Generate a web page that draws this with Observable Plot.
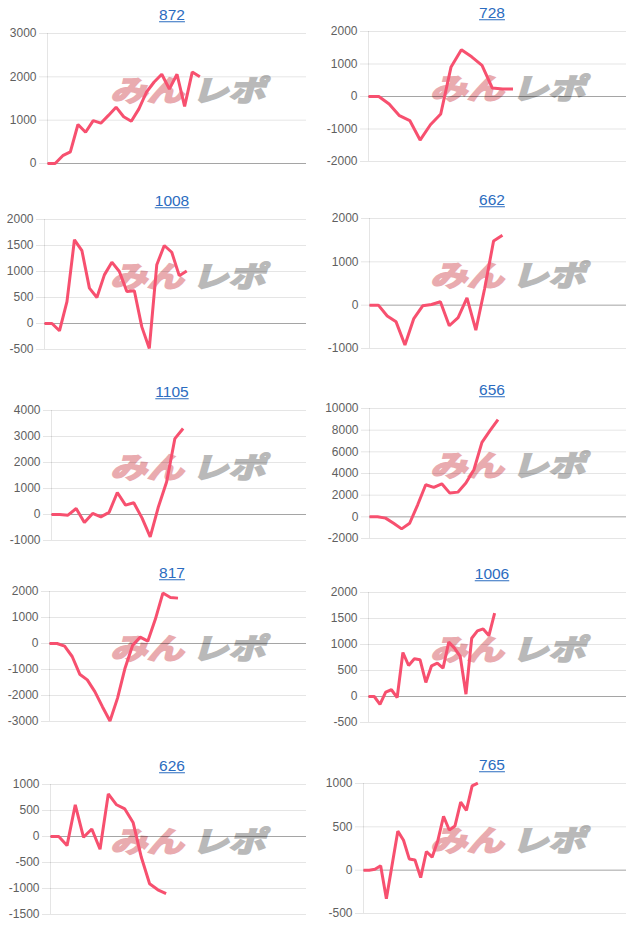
<!DOCTYPE html>
<html><head><meta charset="utf-8">
<script src="https://cdn.jsdelivr.net/npm/d3@7"></script>
<script src="https://cdn.jsdelivr.net/npm/@observablehq/plot@0.6"></script>
<style>
body{margin:0;background:#fff;}
#root{position:relative;width:640px;height:931px;overflow:hidden;font-family:"Liberation Sans",Arial,sans-serif;}
.title{position:absolute;transform:translate(-50%,-50%);color:#2b6cc0;text-decoration:underline;font-size:15.5px;white-space:nowrap;line-height:1;}
.wm{position:absolute;font-family:"Noto Sans CJK JP",sans-serif;font-weight:700;font-size:36px;line-height:1;white-space:nowrap;transform:skewX(-16deg) scale(1.02,0.8);transform-origin:left top;}
.wm .a{color:#e9abaf;-webkit-text-stroke:2.5px #e9abaf;}
.wm .b{color:#b9b9b9;-webkit-text-stroke:2.5px #b9b9b9;margin-left:8px;}
.panel{position:absolute;}
</style></head><body><div id="root"></div>
<script>
// panel titles
const titles = ["872","728","1008","662","1105","656","817","1006","626","765"];
// series values (one per panel)
const v872  = [0,0,180,270,900,720,990,930,1110,1300,1080,975,1260,1650,1880,2060,1720,2060,1320,2110,2000];
const v728  = [0,0,-230,-590,-740,-1340,-870,-540,910,1440,1220,960,260,230,230];
const v1008 = [0,0,-140,420,1610,1400,680,500,935,1180,1000,615,630,-65,-480,1130,1500,1370,920,1010];
const v662  = [0,0,-250,-385,-920,-310,-15,15,80,-475,-290,170,-575,390,1480,1615];
const v1105 = [0,0,-25,230,-310,40,-90,80,845,360,450,-130,-860,300,1260,2920,3310];
const v656  = [0,0,-120,-590,-1110,-590,1110,2960,2720,3050,2190,2280,3120,4350,6880,7960,8980];
const v817  = [0,0,-100,-500,-1180,-1400,-1850,-2430,-2980,-2100,-940,-65,245,90,930,1940,1770,1745];
const v1006 = [0,0,-150,85,130,-20,846,596,724,705,270,590,641,545,1045,930,770,45,1120,1263,1300,1173,1603];
const v626  = [0,0,-175,610,-15,145,-245,820,610,530,270,-400,-910,-1025,-1100];
const v765  = [0,0,10,50,-330,60,450,345,130,118,-86,216,150,340,620,463,510,784,690,972,1004];
const series = [v872,v728,v1008,v662,v1105,v656,v817,v1006,v626,v765];
// number of x-axis category intervals per panel
const xSpans = [34,25,35,29,31,32,34,45,31,46];
// y tick labels per panel
const yTicks = [
  [0,1000,2000,3000],
  [-2000,-1000,0,1000,2000],
  [-500,0,500,1000,1500,2000],
  [-1000,0,1000,2000],
  [-1000,0,1000,2000,3000,4000],
  [-2000,0,2000,4000,6000,8000,10000],
  [-3000,-2000,-1000,0,1000,2000],
  [-500,0,500,1000,1500,2000],
  [-1500,-1000,-500,0,500,1000],
  [-500,0,500,1000]
];
// layout (page geometry)
const plotTops  = [33,31,219,218,410,408,591,592,784,783];
const plotLefts = [47,48,44,49,51,49,49,48,50,43];

const root = document.getElementById("root");
const lineColor = "#f7506f";

for (let i = 0; i < titles.length; i++) {
  const col = i % 2, colX = col * 320;
  const mt = 12, mb = 12, h = 130;
  const ml = plotLefts[i], mr = 14;
  const ticks = yTicks[i];
  const data = series[i].map((v, j) => ({x: j, y: v}));

  // watermark (behind chart)
  const wm = document.createElement("div");
  wm.className = "wm";
  wm.style.left = (colX + 118) + "px";
  wm.style.top = (plotTops[i] + 41) + "px";
  wm.innerHTML = '<span class="a">みん</span><span class="b">レポ</span>';
  root.appendChild(wm);

  const svg = Plot.plot({
    width: 320,
    height: h + mt + mb,
    marginTop: mt, marginBottom: mb, marginLeft: ml, marginRight: mr,
    style: {background: "transparent", fontFamily: '"Liberation Sans", Arial, sans-serif', fontSize: "12px", overflow: "visible"},
    x: {domain: [0, xSpans[i]], axis: null},
    y: {domain: [ticks[0], ticks[ticks.length - 1]], axis: null},
    marks: [
      Plot.gridY(ticks, {stroke: "#000", strokeOpacity: 0.1}),
      Plot.axisY(ticks, {label: null, tickSize: 8, tickPadding: 3, stroke: "#000", strokeOpacity: 0.1, fill: "#5f5f5f", fontSize: 12, tickFormat: d => String(d)}),
      Plot.ruleX([0], {stroke: "#000", strokeOpacity: 0.1}),
      Plot.ruleY([0], {stroke: "#000", strokeOpacity: 0.28}),
      Plot.line(data, {x: "x", y: "y", stroke: lineColor, strokeWidth: 3, strokeLinejoin: "miter", strokeLinecap: "butt"})
    ]
  });
  const wrap = document.createElement("div");
  wrap.className = "panel";
  wrap.style.left = colX + "px";
  wrap.style.top = (plotTops[i] - mt) + "px";
  wrap.appendChild(svg);
  root.appendChild(wrap);

  const t = document.createElement("div");
  t.className = "title";
  t.textContent = titles[i];
  t.style.left = (colX + 172) + "px";
  t.style.top = (plotTops[i] - 18) + "px";
  root.appendChild(t);
}
</script>
</body></html>
